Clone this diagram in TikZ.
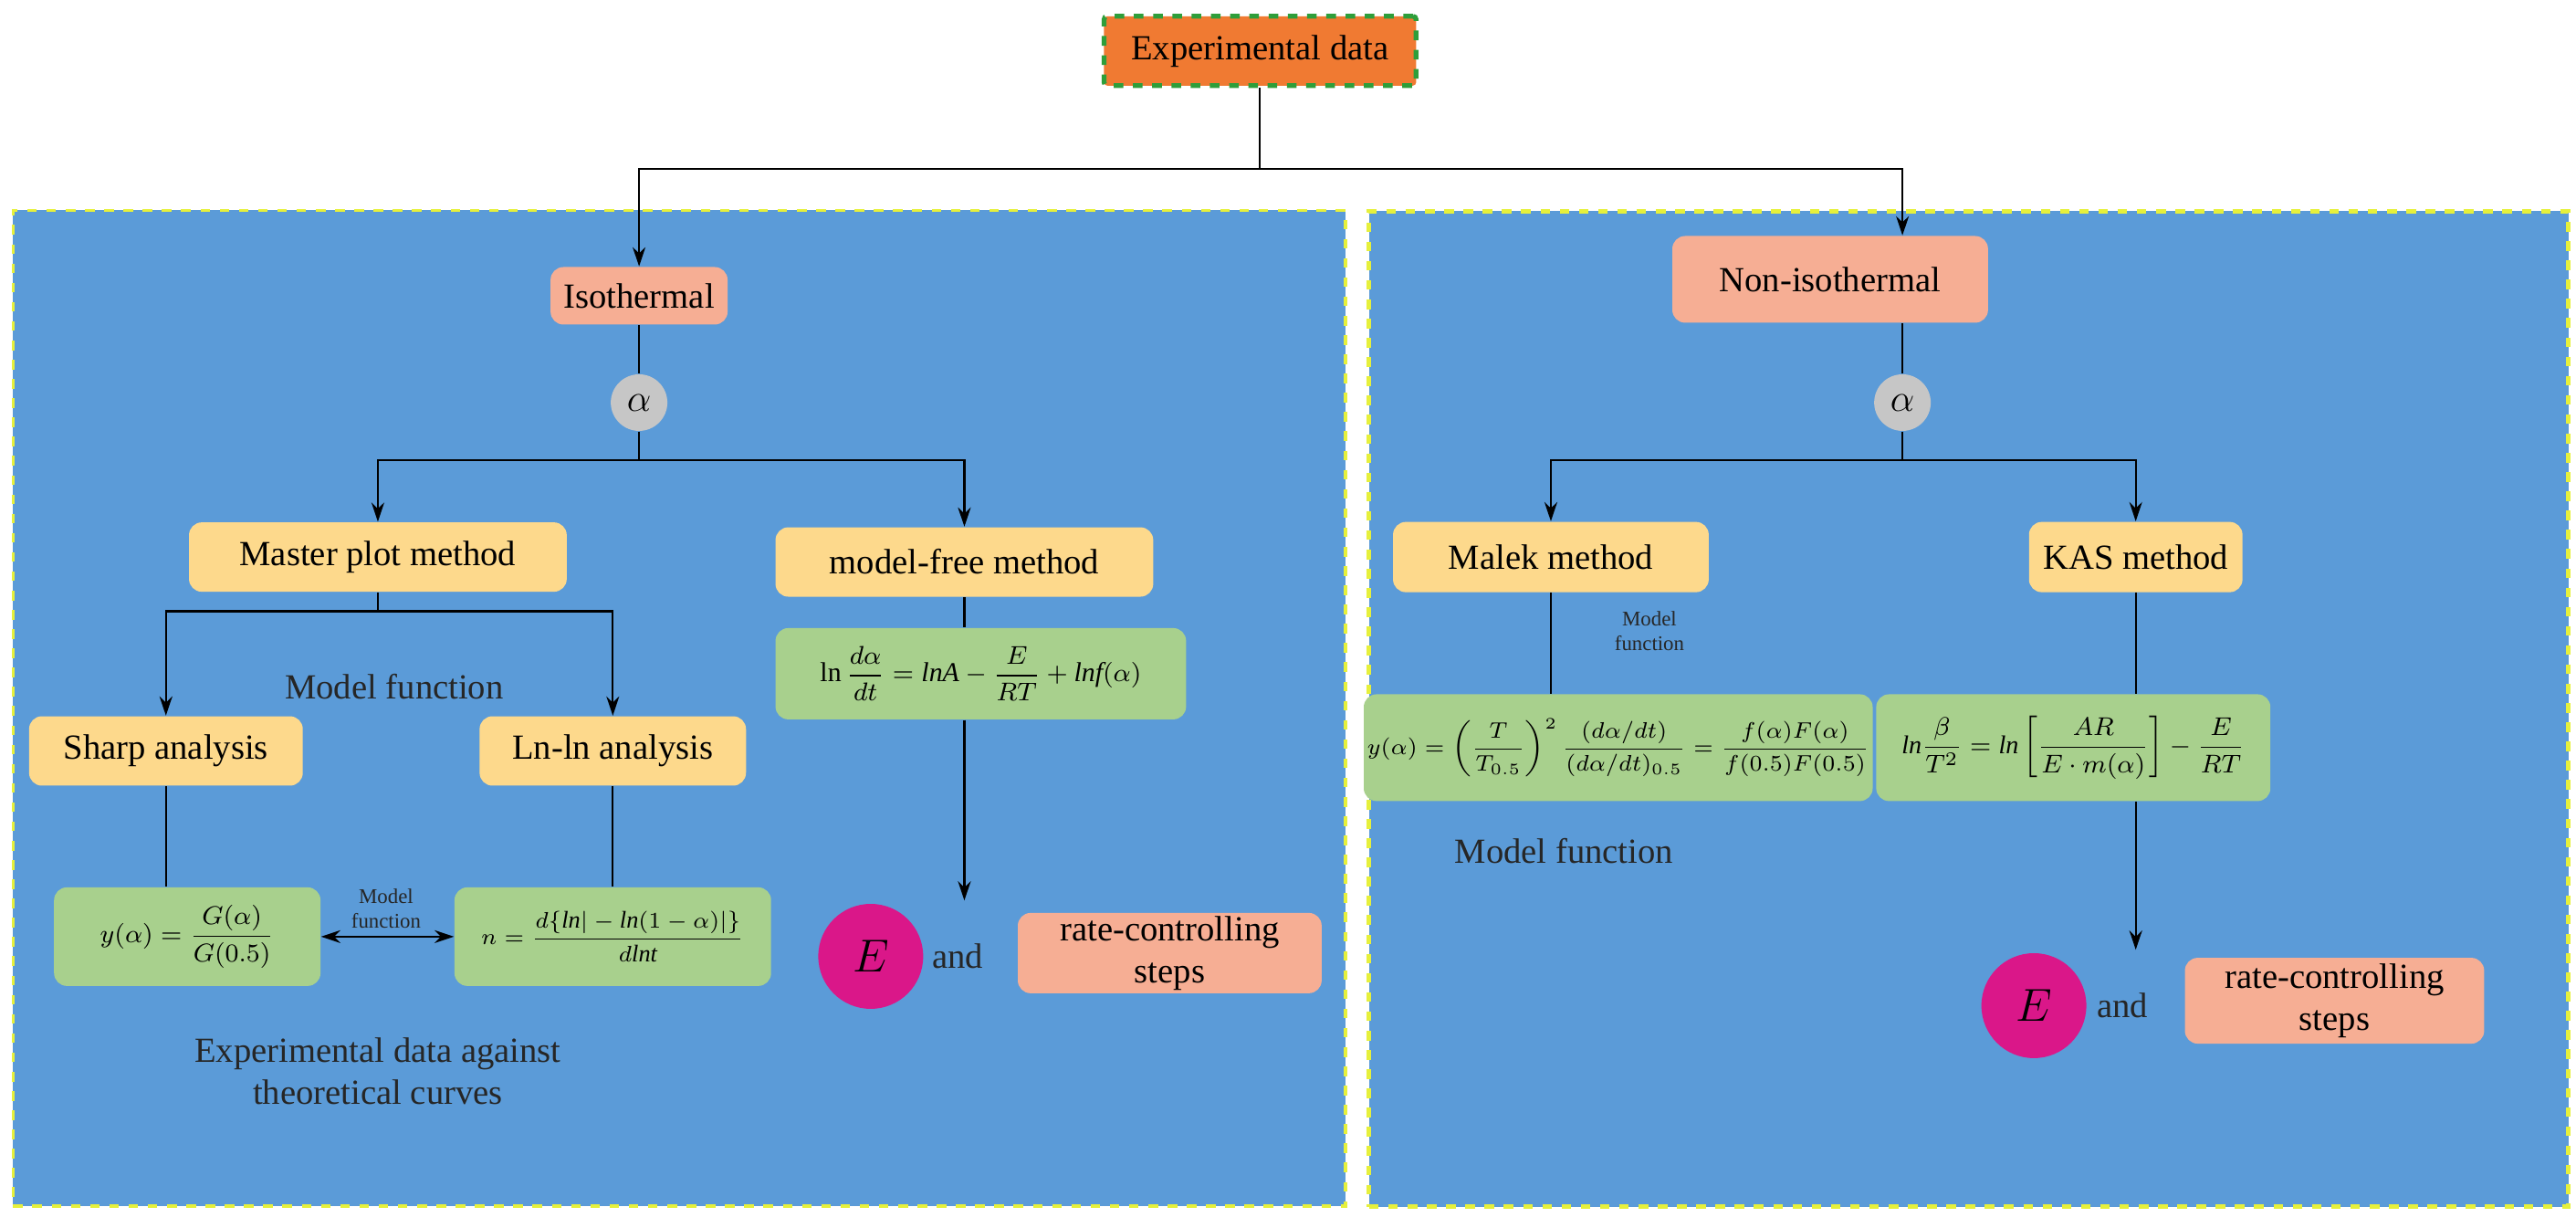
\documentclass[tikz,border=0pt]{standalone}
\usepackage{amsmath}
\usepackage{fontspec}
\setmainfont{Liberation Serif}
\usetikzlibrary{arrows.meta,calc}
\definecolor{panel}{HTML}{5B9BD8}
\definecolor{ybox}{HTML}{FDD98C}
\definecolor{gbox}{HTML}{A8D08D}
\definecolor{sbox}{HTML}{F6AE94}
\definecolor{obox}{HTML}{F07A32}
\definecolor{dgreen}{HTML}{2E9E3A}
\definecolor{ydash}{HTML}{E6F03C}
\begin{document}
\begin{tikzpicture}[x=0.018cm,y=-0.018cm,
  box/.style={rounded corners=4pt,draw=none,inner sep=1pt,align=center,font=\fontsize{11}{13}\selectfont},
  yb/.style={box,fill=ybox},
  gb/.style={box,fill=gbox,font=\fontsize{8.5}{10}\selectfont},
  sb/.style={box,fill=sbox},
  ln/.style={draw=black,line width=0.6pt},
  arr/.style={ln,-{Stealth[length=6pt,width=4pt]}},
  lbl/.style={font=\fontsize{11}{13}\selectfont,align=center,text=black!85},
  small/.style={font=\fontsize{6.5}{7.5}\selectfont,align=center,text=black!85},
  circ/.style={circle,inner sep=0pt,draw=none}]
\useasboundingbox (0,0) rectangle (1568,747);
\fill[white] (0,0) rectangle (1568,747);
% panels
\node[draw=ydash,dashed,line width=1pt,fill=panel,minimum width=811*0.018cm,minimum height=606*0.018cm,anchor=north west,inner sep=0pt] (lp) at (7,127) {};
\node[draw=ydash,dashed,line width=1.4pt,fill=panel,minimum width=730*0.018cm,minimum height=606*0.018cm,anchor=north west,inner sep=0pt] (rp) at (832,127) {};
% top
\node[box,fill=obox,draw=dgreen,dashed,line width=1.5pt,rounded corners=1pt,minimum width=3.42cm,minimum height=0.76cm] (exp) at (767,31) {Experimental data};
\node[sb,minimum width=1.94cm,minimum height=0.63cm] (iso) at (389,180) {Isothermal};
\node[sb,minimum width=3.46cm,minimum height=0.95cm] (noniso) at (1114,170) {Non-isothermal};
\node[circ,fill=gray!45,minimum size=0.62cm,font=\fontsize{12}{14}\selectfont] (a1) at (389,245) {$\alpha$};
\node[circ,fill=gray!45,minimum size=0.62cm,font=\fontsize{12}{14}\selectfont] (a2) at (1158,245) {$\alpha$};
\coordinate (t) at (767,103);
\draw[ln] (exp.south) -- (t);
\draw[arr] (t) -| (iso.north);
\draw[arr] (t) -| (noniso.north -| a2);
\draw[ln] (iso.south) -- (a1);
\draw[ln] (noniso.south -| a2) -- (a2);
% left
\node[yb,minimum width=4.14cm,minimum height=0.76cm] (master) at (230,339) {Master plot method};
\node[yb,minimum width=4.14cm,minimum height=0.76cm] (mfree) at (587,342) {model-free method};
\coordinate (s1) at (389,280);
\draw[ln] (a1) -- (s1);
\draw[arr] (s1) -| (master.north);
\draw[arr] (s1) -| (mfree.north);
\node[yb,minimum width=3.0cm,minimum height=0.76cm] (sharp) at (101,457) {Sharp analysis};
\node[yb,minimum width=2.92cm,minimum height=0.76cm] (lnln) at (373,457) {Ln-ln analysis};
\coordinate (s2) at (230,372);
\draw[ln] (master.south) -- (s2);
\draw[arr] (s2) -| (sharp.north);
\draw[arr] (s2) -| (lnln.north);
\node[lbl] (mf1) at (240,418) {Model function};
\node[gb,minimum width=4.5cm,minimum height=1.0cm] (mff) at (597,410) {$\ln\dfrac{d\alpha}{dt}=\mathit{lnA}-\dfrac{E}{RT}+\mathit{lnf}(\alpha)$};
\draw[ln] (mfree.south) -- (mff.north -| mfree);
\node[gb,minimum width=2.92cm,minimum height=1.08cm] (shf) at (114,570) {$y(\alpha)=\dfrac{G(\alpha)}{G(0.5)}$};
\node[gb,minimum width=3.47cm,minimum height=1.08cm,font=\fontsize{7.5}{9}\selectfont] (llf) at (373,570) {$n=\dfrac{d\{\mathit{ln}|-\mathit{ln}(1-\alpha)|\}}{d\mathit{lnt}}$};
\draw[ln] (sharp.south) -- (shf.north -| sharp);
\draw[ln] (lnln.south) -- (llf.north);
\draw[ln,{Stealth[length=6pt,width=4pt]}-{Stealth[length=6pt,width=4pt]}] (shf.east) -- (llf.west);
\node[small] (mf2) at (235,553) {Model\\function};
\node[lbl] (edat) at (230,652) {Experimental data against\\theoretical curves};
\node[circ,fill=magenta!80!violet,minimum size=1.15cm,font=\fontsize{14}{16}\selectfont] (e1) at (530,582) {$E$};
\node[lbl] (and1) at (583,582) {and};
\node[sb,minimum width=3.33cm,minimum height=0.88cm] (r1) at (712,580) {rate-controlling\\steps};
\coordinate (m1) at (587,548);
\draw[arr] (mff.south -| mfree) -- (m1);
% right
\node[yb,minimum width=3.46cm,minimum height=0.77cm] (malek) at (944,339) {Malek method};
\node[yb,minimum width=2.34cm,minimum height=0.77cm] (kas) at (1300,339) {KAS method};
\coordinate (s3) at (1158,280);
\draw[ln] (a2) -- (s3);
\draw[arr] (s3) -| (malek.north);
\draw[arr] (s3) -| (kas.north);
\node[gb,minimum width=5.1cm,minimum height=1.17cm,font=\fontsize{7.3}{9}\selectfont] (mlf) at (985,455) {$y(\alpha)=\left(\dfrac{T}{T_{0.5}}\right)^{2}\dfrac{(d\alpha/dt)}{(d\alpha/dt)_{0.5}}=\dfrac{f(\alpha)F(\alpha)}{f(0.5)F(0.5)}$};
\node[gb,minimum width=4.32cm,minimum height=1.17cm,font=\fontsize{8}{10}\selectfont] (ksf) at (1262,455) {$\mathit{ln}\dfrac{\beta}{T^{2}}=\mathit{ln}\left[\dfrac{AR}{E\cdot m(\alpha)}\right]-\dfrac{E}{RT}$};
\draw[ln] (malek.south) -- (mlf.north -| malek);
\draw[ln] (kas.south) -- (ksf.north -| kas);
\node[small] (mf3) at (1004,384) {Model\\function};
\node[lbl] (mf4) at (952,518) {Model function};
\node[circ,fill=magenta!80!violet,minimum size=1.15cm,font=\fontsize{14}{16}\selectfont] (e2) at (1238,612) {$E$};
\node[lbl] (and2) at (1292,612) {and};
\node[sb,minimum width=3.28cm,minimum height=0.94cm] (r2) at (1421,609) {rate-controlling\\steps};
\coordinate (m2) at (1300,578);
\draw[arr] (ksf.south -| kas) -- (m2);
\end{tikzpicture}
\end{document}
